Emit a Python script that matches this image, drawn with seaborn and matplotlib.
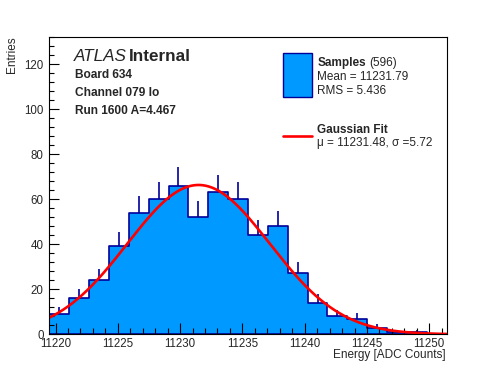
import numpy as np
import pandas as pd
import matplotlib
matplotlib.use("Agg")
import matplotlib.pyplot as plt
from matplotlib.patches import Rectangle
from matplotlib.lines import Line2D
from matplotlib.ticker import MultipleLocator, FixedLocator
import seaborn as sns

# ---------------- data ----------------
counts = [9, 16, 24, 39, 54, 60, 66, 52, 63, 60, 44, 48, 27, 14, 8, 7, 3, 1, 1, 0]
x_lo, x_hi = 11219.5, 11251.4
y_hi = 132
fit_mu = 11231.48
fit_sigma = 5.72
n_entries = 596
mean_val = 11231.79
rms_val = 5.436
x_ticks = [11220, 11225, 11230, 11235, 11240, 11245, 11250]
y_ticks = [0, 20, 40, 60, 80, 100, 120]
info_lines = ["Board 634", "Channel 079 lo", "Run 1600 A=4.467"]

# ---------------- derived ----------------
edges = np.linspace(x_lo, x_hi, len(counts) + 1)
centers = 0.5 * (edges[:-1] + edges[1:])
bw = edges[1] - edges[0]
cnt = np.array(counts, dtype=float)
df = pd.DataFrame({"energy": centers, "n": cnt})

FILL = "#0099FF"
NAVY = "#000099"

sns.set_style("ticks")
plt.rcParams["font.family"] = ["Liberation Sans", "DejaVu Sans"]

W, H = 496, 372
fig = plt.figure(figsize=(W / 100, H / 100), dpi=100)


def fx(x):
    return x / W


def fy(y):
    return 1 - y / H


ax = fig.add_axes([fx(49.3), fy(334.3), 397.4 / W, 297.3 / H])

# error bars (only upper half stays visible above the filled histogram)
mask = cnt > 0
ax.vlines(centers[mask], (cnt - np.sqrt(cnt))[mask], (cnt + np.sqrt(cnt))[mask],
          color=NAVY, linewidth=1.2, zorder=0.8)

sns.histplot(data=df, x="energy", weights="n", bins=len(counts),
             binrange=(x_lo, x_hi), element="step",
             fill=True, color=FILL, alpha=1, edgecolor=NAVY, linewidth=1.2,
             ax=ax, zorder=1)

xs = np.linspace(x_lo, x_hi, 500)
amp = n_entries * bw / (np.sqrt(2 * np.pi) * fit_sigma)
ys = amp * np.exp(-0.5 * ((xs - fit_mu) / fit_sigma) ** 2)
sns.lineplot(x=xs, y=ys, color="red", linewidth=1.9, ax=ax, zorder=3)

ax.set_xlim(x_lo, x_hi)
ax.set_ylim(0, y_hi)
ax.set_xlabel("")
ax.set_ylabel("")
ax.set_axisbelow(False)
for s in ax.spines.values():
    s.set_visible(True)
    s.set_linewidth(0.8)
    s.set_color("black")
    s.set_zorder(5)

ax.xaxis.set_major_locator(FixedLocator(x_ticks))
ax.xaxis.set_minor_locator(MultipleLocator(1))
ax.yaxis.set_major_locator(FixedLocator(y_ticks))
ax.yaxis.set_minor_locator(MultipleLocator(4))
ax.set_xticklabels([str(t) for t in x_ticks])
ax.set_yticklabels([str(t) for t in y_ticks])
ax.tick_params(which="both", direction="in", top=False, right=False,
               width=0.8, color="black", labelsize=8.3)
ax.tick_params(axis="x", which="major", length=8, pad=2.5)
ax.tick_params(axis="x", which="minor", length=4)
ax.tick_params(axis="y", which="major", length=7.5, pad=4)
ax.tick_params(axis="y", which="minor", length=3.8)

# axis titles
fig.text(fx(446), fy(358), "Energy [ADC Counts]", ha="right", va="baseline",
         fontsize=8.5)
fig.text(fx(11.7), fy(36.7), "Entries", rotation=90, ha="center", va="top",
         fontsize=8.5)

# ATLAS label
fig.text(fx(74), fy(61.2), "ATLAS", style="italic", fontsize=12.3,
         ha="left", va="baseline")
fig.text(fx(128.5), fy(61.2), "Internal", fontweight="bold", fontsize=12.3,
         ha="left", va="baseline")
for i, line in enumerate(info_lines):
    fig.text(fx(74.8), fy(77.5 + 18.3 * i), line, fontweight="bold",
             fontsize=8.6, ha="left", va="baseline")

# legend
fig.patches.append(Rectangle((fx(283.3), fy(96.7)), 28.4 / W, 43.4 / H,
                             transform=fig.transFigure, facecolor=FILL,
                             edgecolor=NAVY, linewidth=1.0))
fig.lines.append(Line2D([fx(283.3), fx(311.7)], [fy(136), fy(136)],
                        transform=fig.transFigure, color="red", linewidth=1.9))
fig.text(fx(317.3), fy(66), "Samples", fontweight="bold", fontsize=8.5,
         va="baseline")
fig.text(fx(369), fy(66), f"({n_entries})", fontsize=8.5, va="baseline")
fig.text(fx(317.3), fy(80), f"Mean = {mean_val:.2f}", fontsize=8.5, va="baseline")
fig.text(fx(317.3), fy(94), f"RMS = {rms_val:.3f}", fontsize=8.5, va="baseline")
fig.text(fx(317.3), fy(133.3), "Gaussian Fit", fontweight="bold", fontsize=8.5,
         va="baseline")
fig.text(fx(317.3), fy(146), f"\u03bc = {fit_mu:.2f}, \u03c3 ={fit_sigma:.2f}",
         fontsize=8.5, va="baseline")

fig.savefig("out.png", dpi=100)
